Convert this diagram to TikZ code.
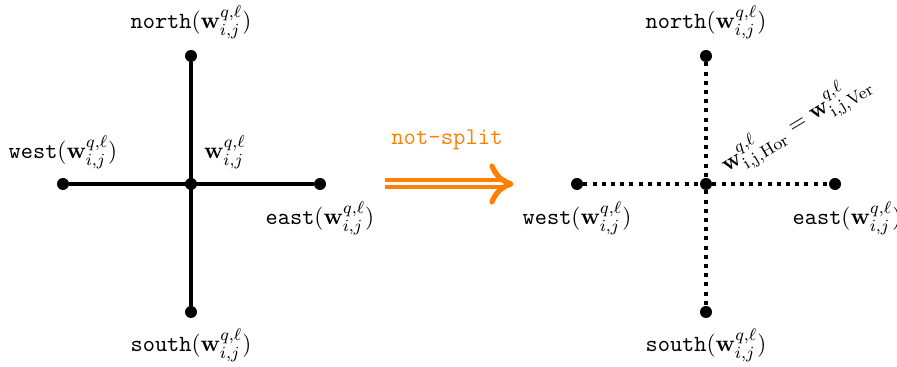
\documentclass[tikz,border=0pt,11pt]{standalone}
\usepackage{graphicx}
\usepackage{amsmath}
\usetikzlibrary{arrows.meta}
\definecolor{splitorange}{RGB}{255,128,0}
\tikzset{
  dotnode/.style={circle,fill=black,inner sep=0pt,minimum size=6pt},
  lbl/.style={inner sep=1pt},
  solidarm/.style={line width=2pt},
  dotarm/.style={line width=2pt,dash pattern=on 2pt off 2.6pt},
  arrowhead/.style={splitorange,line width=2.6pt,line cap=round,line join=round},
}
\newcommand{\wql}{\mathbf{w}^{q,\ell}_{i,j}}
\newcommand{\lbtxt}[1]{\scalebox{1.06}{#1}}
\begin{document}
\begin{tikzpicture}[x=1pt,y=1pt]
\useasboundingbox (0,0) rectangle (448.5,183.5);
% left cross
\node[dotnode] (c1) at (95.5,91.5) {};
\node[dotnode] (n1) at (95.5,155.5) {};
\node[dotnode] (s1) at (95.5,27.5) {};
\node[dotnode] (w1) at (31.5,91.5) {};
\node[dotnode] (e1) at (160,91.5) {};
\draw[solidarm] (n1) -- (s1);
\draw[solidarm] (w1) -- (e1);
\node[lbl] (ln1) at ([yshift=17pt]n1.center) {\lbtxt{$\texttt{north}(\wql)$}};
\node[lbl] (ls1) at ([yshift=-16.5pt]s1.center) {\lbtxt{$\texttt{south}(\wql)$}};
\node[lbl] (lw1) at ([yshift=16pt]w1.center) {\lbtxt{$\texttt{west}(\wql)$}};
\node[lbl] (le1) at ([yshift=-17pt]e1.center) {\lbtxt{$\texttt{east}(\wql)$}};
\node[lbl] (lc1) at ([xshift=17pt,yshift=16pt]c1.center) {\lbtxt{$\wql$}};
% arrow
\coordinate (a0) at (192.5,91.5);
\coordinate (a1) at (255.5,91.5);
\coordinate (a1b) at (253,91.5);
\coordinate (h1) at (246,100.5);
\coordinate (h2) at (246,82.5);
\draw[splitorange,line width=2pt,double distance=1.5pt] (a0) -- (a1b);
\draw[arrowhead] (h1) to[bend right=25] (a1) to[bend right=25] (h2);
\node[text=splitorange,font=\large] (ns) at (223.5,113.5) {\texttt{not-split}};
% right cross
\node[dotnode] (c2) at (353,91.5) {};
\node[dotnode] (n2) at (353,155.5) {};
\node[dotnode] (s2) at (353,27.5) {};
\node[dotnode] (w2) at (288.5,91.5) {};
\node[dotnode] (e2) at (417.5,91.5) {};
\draw[dotarm] (n2) -- (c2);
\draw[dotarm] (c2) -- (s2);
\draw[dotarm] (w2) -- (c2);
\draw[dotarm] (c2) -- (e2);
\node[lbl] (ln2) at ([yshift=17pt]n2.center) {\lbtxt{$\texttt{north}(\wql)$}};
\node[lbl] (ls2) at ([yshift=-16.5pt]s2.center) {\lbtxt{$\texttt{south}(\wql)$}};
\node[lbl] (lw2) at ([yshift=-17pt]w2.center) {\lbtxt{$\texttt{west}(\wql)$}};
\node[lbl] (le2) at ([xshift=6pt,yshift=-17pt]e2.center) {\lbtxt{$\texttt{east}(\wql)$}};
\node[lbl,rotate=31] (lc2) at ([xshift=45pt,yshift=30pt]c2.center) {\lbtxt{$\mathbf{w}^{q,\ell}_{\mathrm{i,j,Hor}}=\mathbf{w}^{q,\ell}_{\mathrm{i,j,Ver}}$}};
\end{tikzpicture}
\end{document}
